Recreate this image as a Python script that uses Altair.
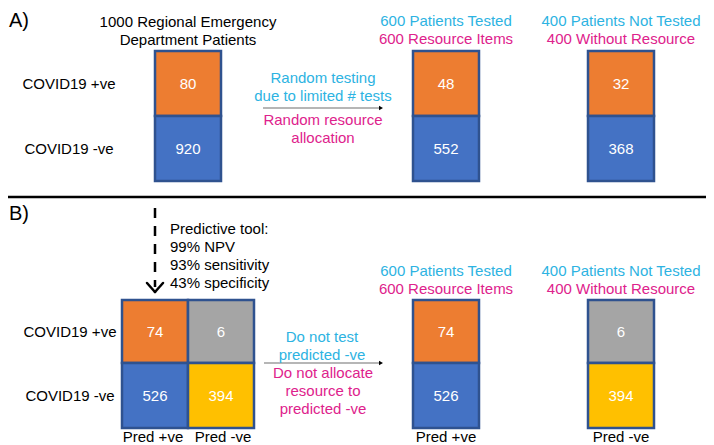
import altair as alt
import pandas as pd

# ---------------- data ----------------
row_labels = ["COVID19 +ve", "COVID19 -ve"]
pred_labels = ["Pred +ve", "Pred -ve"]

a_all = [80, 920]
a_tested = [48, 552]
a_not_tested = [32, 368]

b_grid_pred_pos = [74, 526]   # column "Pred +ve"
b_grid_pred_neg = [6, 394]    # column "Pred -ve"
b_tested = [74, 526]
b_not_tested = [6, 394]

title_lines = ["1000 Regional Emergency", "Department Patients"]
tested_header = ["600 Patients Tested", "600 Resource Items"]
not_tested_header = ["400 Patients Not Tested", "400 Without Resource"]
arrow_a_cyan = ["Random testing", "due to limited # tests"]
arrow_a_magenta = ["Random resource", "allocation"]
arrow_b_cyan = ["Do not test", "predicted -ve"]
arrow_b_magenta = ["Do not allocate", "resource to", "predicted -ve"]
tool_lines = ["Predictive tool:", "99% NPV", "93% sensitivity", "43% specificity"]
panel_labels = ["A)", "B)"]

# ---------------- styles / layout ----------------
ORANGE = "#ED7D31"
BLUE = "#4472C4"
GREY = "#A5A5A5"
YELLOW = "#FFC000"
BORDER = "#2F528F"
CYAN = "#2DB3E2"
MAGENTA = "#DE228C"
FONT = "Liberation Sans"
FS = 15

BOX_W = 66
COL_A1, COL_2, COL_3 = 188, 446, 621
GRID_L, GRID_M, GRID_R = 122, 188, 254
A_TOP, A_MID, A_BOT = 51, 116, 181
B_TOP, B_MID, B_BOT = 300, 363, 428
A_ROWS = [(A_TOP + A_MID) / 2 + 0.5, (A_MID + A_BOT) / 2 + 0.5]
B_ROWS = [(B_TOP + B_MID) / 2, (B_MID + B_BOT) / 2 + 0.5]
ROW_LABEL_X = 69

# ---------------- rect table ----------------
rects = []
def stack(cx, top, mid, bot, values, colors):
    rects.append(dict(x=cx - BOX_W / 2, x2=cx + BOX_W / 2, y=top, y2=mid, fill=colors[0]))
    rects.append(dict(x=cx - BOX_W / 2, x2=cx + BOX_W / 2, y=mid, y2=bot, fill=colors[1]))

stack(COL_A1, A_TOP, A_MID, A_BOT, a_all, [ORANGE, BLUE])
stack(COL_2, A_TOP, A_MID, A_BOT, a_tested, [ORANGE, BLUE])
stack(COL_3, A_TOP, A_MID, A_BOT, a_not_tested, [ORANGE, BLUE])
rects.append(dict(x=GRID_L, x2=GRID_M, y=B_TOP, y2=B_MID, fill=ORANGE))
rects.append(dict(x=GRID_M, x2=GRID_R, y=B_TOP, y2=B_MID, fill=GREY))
rects.append(dict(x=GRID_L, x2=GRID_M, y=B_MID, y2=B_BOT, fill=BLUE))
rects.append(dict(x=GRID_M, x2=GRID_R, y=B_MID, y2=B_BOT, fill=YELLOW))
stack(COL_2, B_TOP, B_MID, B_BOT, b_tested, [ORANGE, BLUE])
stack(COL_3, B_TOP, B_MID, B_BOT, b_not_tested, [GREY, YELLOW])
rect_df = pd.DataFrame(rects)

# ---------------- centred text table ----------------
texts = []
def t(x, y, s, color="black", size=FS):
    texts.append(dict(x=x, y=y, text=str(s), color=color, size=size))

# panel A
for i, line in enumerate(title_lines):
    t(COL_A1, 22 + 18 * i, line)
for i, line in enumerate(tested_header):
    t(COL_2, 21 + 18 * i, line, [CYAN, MAGENTA][i])
for i, line in enumerate(not_tested_header):
    t(COL_3, 21 + 18 * i, line, [CYAN, MAGENTA][i])
for i in range(2):
    t(ROW_LABEL_X, A_ROWS[i], row_labels[i])
    t(COL_A1, A_ROWS[i], a_all[i], "white")
    t(COL_2, A_ROWS[i], a_tested[i], "white")
    t(COL_3, A_ROWS[i], a_not_tested[i], "white")
for i, line in enumerate(arrow_a_cyan):
    t(323, 78 + 18 * i, line, CYAN)
for i, line in enumerate(arrow_a_magenta):
    t(323, 120 + 17.5 * i, line, MAGENTA)

# panel B
for i, line in enumerate(tested_header):
    t(COL_2, 271 + 18 * i, line, [CYAN, MAGENTA][i])
for i, line in enumerate(not_tested_header):
    t(COL_3, 271 + 18 * i, line, [CYAN, MAGENTA][i])
for i in range(2):
    t(ROW_LABEL_X + 1, B_ROWS[i], row_labels[i])
    t((GRID_L + GRID_M) / 2, B_ROWS[i], b_grid_pred_pos[i], "white")
    t((GRID_M + GRID_R) / 2, B_ROWS[i], b_grid_pred_neg[i], "white")
    t(COL_2, B_ROWS[i], b_tested[i], "white")
    t(COL_3, B_ROWS[i], b_not_tested[i], "white")
t(153, 437, pred_labels[0])
t(223, 437, pred_labels[1])
t(COL_2, 437, pred_labels[0])
t(COL_3, 437, pred_labels[1])
for i, line in enumerate(arrow_b_cyan):
    t(322, 337 + 18 * i, line, CYAN)
for i, line in enumerate(arrow_b_magenta):
    t(323, 373 + 18 * i, line, MAGENTA)
text_df = pd.DataFrame(texts)

# ---------------- left-aligned text ----------------
left = []
for i, line in enumerate(tool_lines):
    left.append(dict(x=170, y=229 + 18 * i, text=line, size=FS))
left.append(dict(x=9, y=21, text=panel_labels[0], size=20))
left.append(dict(x=9, y=214, text=panel_labels[1], size=20))
left_df = pd.DataFrame(left)

# ---------------- lines ----------------
sep_df = pd.DataFrame([dict(x=8, x2=706, y=197, y2=197)])
thin_arrows_df = pd.DataFrame([
    dict(x=263, x2=379, y=108, y2=108),
    dict(x=264, x2=379, y=363, y2=363),
])
heads_df = pd.DataFrame([dict(x=381, y=108), dict(x=381, y=363)])
dash_df = pd.DataFrame([dict(x=155, x2=155, y=208, y2=287)])
chevron_df = pd.DataFrame([
    dict(x=147, x2=155, y=283, y2=292),
    dict(x=163, x2=155, y=283, y2=292),
])

X = alt.X("x:Q", scale=alt.Scale(domain=[8, 706], nice=False, zero=False), axis=None)
Y = alt.Y("y:Q", scale=alt.Scale(domain=[8, 445], reverse=True, nice=False, zero=False), axis=None)

boxes = alt.Chart(rect_df).mark_rect(stroke=BORDER, strokeWidth=2.5).encode(
    x=X, x2="x2:Q", y=Y, y2="y2:Q", fill=alt.Fill("fill:N", scale=None)
)

centred = alt.Chart(text_df).mark_text(font=FONT, align="center", baseline="middle").encode(
    x=X, y=Y, text="text:N",
    color=alt.Color("color:N", scale=None),
    size=alt.Size("size:Q", scale=None),
)

lefttext = alt.Chart(left_df).mark_text(font=FONT, align="left", baseline="middle", color="black").encode(
    x=X, y=Y, text="text:N", size=alt.Size("size:Q", scale=None)
)

sep = alt.Chart(sep_df).mark_rule(color="black", strokeWidth=2.5).encode(x=X, x2="x2:Q", y=Y, y2="y2:Q")
thin = alt.Chart(thin_arrows_df).mark_rule(color="#6E6E6E", strokeWidth=1.2).encode(x=X, x2="x2:Q", y=Y, y2="y2:Q")
heads = alt.Chart(heads_df).mark_point(shape="triangle-right", filled=True, color="black", size=22, opacity=1).encode(x=X, y=Y)
dash = alt.Chart(dash_df).mark_rule(color="black", strokeWidth=2.5, strokeDash=[10, 8]).encode(x=X, x2="x2:Q", y=Y, y2="y2:Q")
chev = alt.Chart(chevron_df).mark_rule(color="black", strokeWidth=2.5, strokeCap="round").encode(x=X, x2="x2:Q", y=Y, y2="y2:Q")

chart = alt.layer(boxes, sep, thin, heads, dash, chev, centred, lefttext).properties(
    width=698, height=437, padding=0, autosize="none", background="white"
).configure_view(stroke=None)

chart.save("out.html", embed_options={"renderer": "svg", "actions": False})
